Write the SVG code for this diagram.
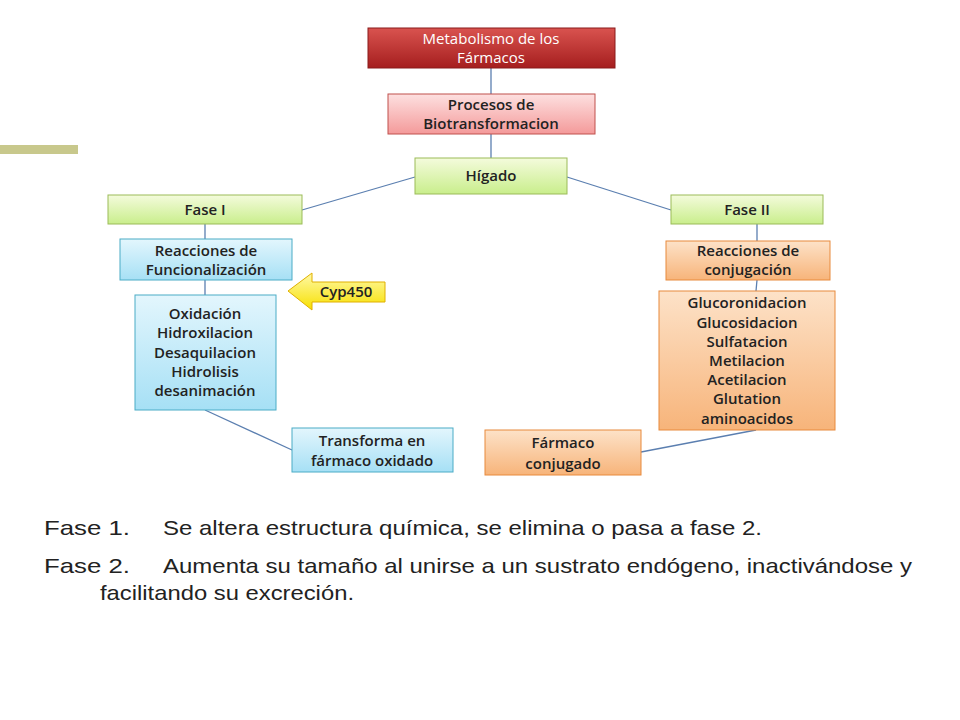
<svg xmlns="http://www.w3.org/2000/svg" width="960" height="720" viewBox="0 0 960 720">
<defs>
<linearGradient id="gr" x1="0" y1="0" x2="0" y2="1"><stop offset="0" stop-color="#d9534f"/><stop offset="1" stop-color="#a51e1e"/></linearGradient>
<linearGradient id="gp" x1="0" y1="0" x2="0" y2="1"><stop offset="0" stop-color="#fde0e0"/><stop offset="1" stop-color="#f49a9a"/></linearGradient>
<linearGradient id="gg" x1="0" y1="0" x2="0" y2="1"><stop offset="0" stop-color="#f4fbdc"/><stop offset="1" stop-color="#c9ee8c"/></linearGradient>
<linearGradient id="gb" x1="0" y1="0" x2="0" y2="1"><stop offset="0" stop-color="#e3f6fd"/><stop offset="1" stop-color="#a6e0f5"/></linearGradient>
<linearGradient id="go" x1="0" y1="0" x2="0" y2="1"><stop offset="0" stop-color="#fde2c8"/><stop offset="1" stop-color="#f7b47a"/></linearGradient>
<linearGradient id="gy" x1="0" y1="0" x2="0" y2="1"><stop offset="0" stop-color="#fff9a8"/><stop offset="1" stop-color="#f7e000"/></linearGradient>
</defs>
<style>
.n{font-family:"Open Sans","Liberation Sans",sans-serif;font-size:15px;font-weight:600;fill:#222;text-anchor:middle}
.w{fill:#fff;font-weight:400}
.c{stroke:#5b7fb0;stroke-width:1.3;fill:none}
.b{font-family:"Liberation Sans",Arial,sans-serif;font-size:21px;fill:#222}
</style>
<rect width="960" height="720" fill="#fff"/>
<rect x="0" y="145" width="78" height="9" fill="#c8c88c"/>
<g id="connectors">
<line class="c" x1="491" y1="68" x2="491" y2="94"/>
<line class="c" x1="491" y1="134" x2="491" y2="158"/>
<line class="c" x1="415" y1="177" x2="302" y2="210"/>
<line class="c" x1="567" y1="177" x2="671" y2="210"/>
<line class="c" x1="205" y1="224" x2="205" y2="239"/>
<line class="c" x1="205" y1="280" x2="205" y2="295"/>
<line class="c" x1="205" y1="410" x2="292" y2="450"/>
<line class="c" x1="757" y1="224" x2="757" y2="241"/>
<line class="c" x1="757" y1="280" x2="756" y2="291"/>
<line class="c" x1="756" y1="430" x2="641" y2="452"/>
</g>
<g id="metabolismo"><rect x="368" y="28" width="247" height="40" fill="url(#gr)" stroke="#8a1a1a"/><text class="n w" x="491" y="44">Metabolismo de los</text><text class="n w" x="491" y="63">Fármacos</text></g>
<g id="procesos"><rect x="388" y="94" width="207" height="40" fill="url(#gp)" stroke="#c0504d"/><text class="n" x="491" y="110">Procesos de</text><text class="n" x="491" y="129">Biotransformacion</text></g>
<g id="higado"><rect x="415" y="158" width="152" height="36" fill="url(#gg)" stroke="#9bbb59"/><text class="n" x="491" y="181">Hígado</text></g>
<g id="fase1"><rect x="108" y="195" width="194" height="29" fill="url(#gg)" stroke="#9bbb59"/><text class="n" x="205" y="215">Fase I</text></g>
<g id="fase2"><rect x="671" y="195" width="152" height="29" fill="url(#gg)" stroke="#9bbb59"/><text class="n" x="747" y="215">Fase II</text></g>
<g id="funcionalizacion"><rect x="120" y="239" width="172" height="41" fill="url(#gb)" stroke="#4bacc6"/><text class="n" x="206" y="256">Reacciones de</text><text class="n" x="206" y="275">Funcionalización</text></g>
<g id="oxidacion"><rect x="135" y="295" width="141" height="115" fill="url(#gb)" stroke="#4bacc6"/>
<text class="n" x="205" y="319">Oxidación</text><text class="n" x="205" y="338">Hidroxilacion</text><text class="n" x="205" y="358">Desaquilacion</text><text class="n" x="205" y="377">Hidrolisis</text><text class="n" x="205" y="396">desanimación</text></g>
<g id="cyp450"><polygon points="288,291 312,273 312,282 385,282 385,302 312,302 312,310" fill="url(#gy)" stroke="#e0b000"/><text class="n" x="346" y="297">Cyp450</text></g>
<g id="transforma"><rect x="292" y="428" width="161" height="44" fill="url(#gb)" stroke="#4bacc6"/><text class="n" x="372" y="446">Transforma en</text><text class="n" x="372" y="466">fármaco oxidado</text></g>
<g id="conjugacion"><rect x="666" y="241" width="164" height="39" fill="url(#go)" stroke="#e88a3c"/><text class="n" x="748" y="256">Reacciones de</text><text class="n" x="748" y="275">conjugación</text></g>
<g id="gluco"><rect x="659" y="291" width="176" height="139" fill="url(#go)" stroke="#e88a3c"/>
<text class="n" x="747" y="308">Glucoronidacion</text><text class="n" x="747" y="328">Glucosidacion</text><text class="n" x="747" y="347">Sulfatacion</text><text class="n" x="747" y="366">Metilacion</text><text class="n" x="747" y="385">Acetilacion</text><text class="n" x="747" y="404">Glutation</text><text class="n" x="747" y="424">aminoacidos</text></g>
<g id="farmaco"><rect x="485" y="430" width="156" height="45" fill="url(#go)" stroke="#e88a3c"/><text class="n" x="563" y="448">Fármaco</text><text class="n" x="563" y="469">conjugado</text></g>
<g id="texto">
<text class="b" x="44" y="535" textLength="86" lengthAdjust="spacingAndGlyphs">Fase 1.</text><text class="b" x="163" y="535" textLength="599" lengthAdjust="spacingAndGlyphs">Se altera estructura química, se elimina o pasa a fase 2.</text>
<text class="b" x="44" y="573" textLength="86" lengthAdjust="spacingAndGlyphs">Fase 2.</text><text class="b" x="163" y="573" textLength="749" lengthAdjust="spacingAndGlyphs">Aumenta su tamaño al unirse a un sustrato endógeno, inactivándose y</text>
<text class="b" x="100" y="600" textLength="254" lengthAdjust="spacingAndGlyphs">facilitando su excreción.</text>
</g>
</svg>
